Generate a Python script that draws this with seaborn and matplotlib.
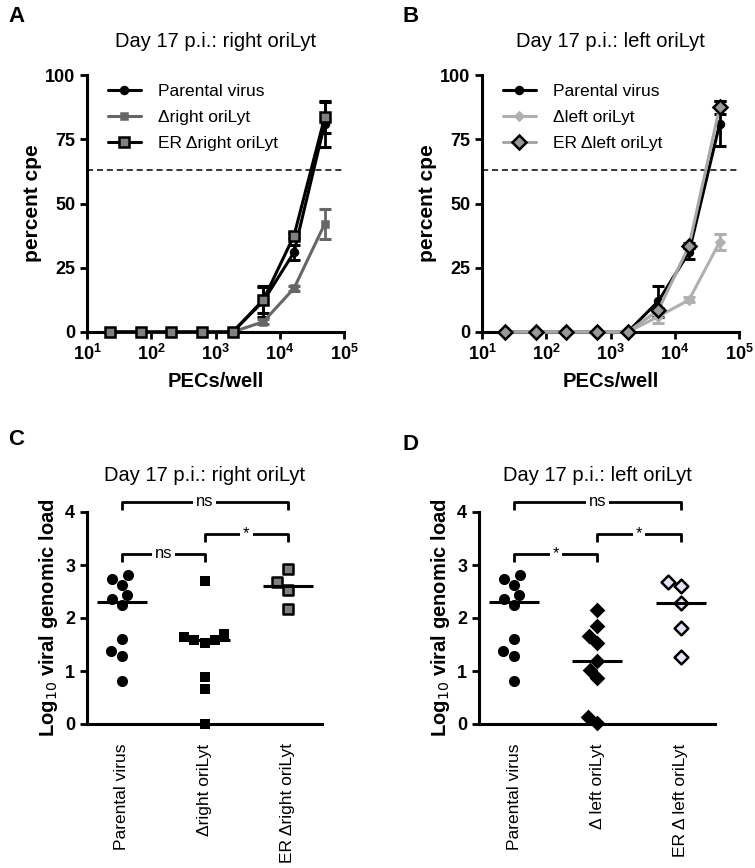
import numpy as np
import pandas as pd
import matplotlib
matplotlib.use("Agg")
import matplotlib.pyplot as plt
import seaborn as sns

sns.set_style("ticks")
plt.rcParams['font.family'] = ['Liberation Sans', 'DejaVu Sans']
plt.rcParams.update({"text.color": "black", "axes.labelcolor": "black",
                     "xtick.color": "black", "ytick.color": "black",
                     "axes.edgecolor": "black"})

# --- cpe titration data (panels A, B) ---
pecs = [22.9, 68.6, 206, 617, 1852, 5556, 16667, 50000]

parental_cpe = [0, 0, 0, 0, 0, 12, 31, 81]
parental_err = [0, 0, 0, 0, 0, 6, 3, 9]

dright_cpe = [0, 0, 0, 0, 0, 4, 17, 42]
dright_err = [0, 0, 0, 0, 0, 1, 1, 5.8]
er_dright_cpe = [0, 0, 0, 0, 0, 12.5, 37.5, 83.5]
er_dright_err = [0, 0, 0, 0, 0, 5, 1, 6]

parental_cpe_b = [0, 0, 0, 0, 0, 12, 31, 81]
parental_err_b = [0, 0, 0, 0, 0, 6, 2.5, 8.7]
dleft_cpe = [0, 0, 0, 0, 0, 6, 12.5, 35]
dleft_err = [0, 0, 0, 0, 0, 2.5, 1, 3]
er_dleft_cpe = [0, 0, 0, 0, 0, 8.5, 33.5, 87.5]
er_dleft_err = [0, 0, 0, 0, 0, 1, 1, 2.5]

cutoff = 63.2

# --- genomic load data (panels C, D) ---
parental_load = [2.74, 2.63, 2.81, 2.43, 2.24, 2.35, 1.61, 1.38, 1.29, 0.81]
dright_load = [2.70, 1.58, 1.69, 1.52, 1.64, 1.58, 0.89, 0.66, 0.0]
er_dright_load = [2.92, 2.67, 2.52, 2.17]
dleft_load = [2.15, 1.85, 1.66, 1.52, 1.19, 1.02, 0.86, 0.14, 0.01]
er_dleft_load = [2.67, 2.61, 2.29, 1.82, 1.26]

cats_c = ["Parental virus", "\u0394right oriLyt", "ER \u0394right oriLyt"]
cats_d = ["Parental virus", "\u0394 left oriLyt", "ER \u0394 left oriLyt"]

fig = plt.figure(figsize=(7.55, 8.68), dpi=100)

W, H = 755, 868


def add_ax(l, t, r, b):
    return fig.add_axes([l / W, 1 - b / H, (r - l) / W, (b - t) / H])


def style_ax(ax):
    for s in ["top", "right"]:
        ax.spines[s].set_visible(False)
    for s in ["left", "bottom"]:
        ax.spines[s].set_linewidth(2.2)
    ax.tick_params(width=2, length=5, labelsize=13)
    for lab in ax.get_yticklabels():
        lab.set_fontweight("bold")


def cpe_panel(ax, title, series):
    for name, y, err, lc, mk, mfc, mec, ms in series:
        df = pd.DataFrame({"x": pecs, "y": y})
        sns.lineplot(data=df, x="x", y="y", ax=ax, color=lc, lw=2.2, marker=mk,
                     markersize=ms, markerfacecolor=mfc, markeredgecolor=mec,
                     markeredgewidth=1.8, label=name, clip_on=False, zorder=3)
        ax.errorbar(pecs, y, yerr=err, fmt="none", ecolor=mec if mec == "black" else lc,
                    elinewidth=2, capsize=4, capthick=2.2, clip_on=False, zorder=2)
    ax.axhline(cutoff, color="black", lw=1.1, ls=(0, (4, 2.5)))
    ax.set_xscale("log")
    ax.set_xlim(10, 1e5)
    ax.set_ylim(0, 100)
    ax.set_yticks([0, 25, 50, 75, 100])
    ax.set_xticks([1e1, 1e2, 1e3, 1e4, 1e5])
    ax.xaxis.set_minor_locator(matplotlib.ticker.NullLocator())
    style_ax(ax)
    for lab in ax.get_xticklabels():
        lab.set_fontweight("bold")
    ax.set_xlabel("PECs/well", fontsize=14.5, fontweight="bold", labelpad=6)
    ax.set_ylabel("percent cpe", fontsize=15, fontweight="bold", labelpad=2)
    ax.set_title(title, fontsize=14.5, pad=20)
    ax.legend(loc="upper left", bbox_to_anchor=(0.02, 1.025), frameon=False,
              fontsize=12.5, handlelength=1.9, labelspacing=0.62, handletextpad=1.0)


def load_panel(ax, title, cats, groups, brackets):
    for cat, vals, mk, fc, ms in groups:
        df = pd.DataFrame({"group": cat, "val": vals})
        sns.swarmplot(data=df, x="group", y="val", order=cats, ax=ax, marker=mk,
                      color=fc, size=ms, edgecolor="black", linewidth=1.8 if fc != "black" else 0,
                      clip_on=False, zorder=3)
        i = cats.index(cat)
        med = np.median(vals)
        ax.hlines(med, i - 0.3, i + 0.3, color="black", lw=2.2, zorder=4)
    ax.set_xlim(-0.42, 2.41)
    ax.set_ylim(0, 4)
    ax.set_yticks([0, 1, 2, 3, 4])
    style_ax(ax)
    ax.tick_params(axis="x", length=0, labelsize=12.5, pad=14)
    ax.set_xticklabels(cats, rotation=90)
    ax.set_xlabel("")
    ax.set_ylabel("Log$_{10}$ viral genomic load", fontsize=14.5, fontweight="bold", labelpad=4)
    ax.set_title(title, fontsize=14.5, pad=22)
    for a, b, y, txt in brackets:
        ax.plot([a, a, b, b], [y - 0.15, y, y, y - 0.15], color="black", lw=2,
                clip_on=False, solid_capstyle="butt")
        ax.text((a + b) / 2, y, txt, ha="center", va="center", fontsize=12,
                bbox=dict(facecolor="white", edgecolor="none", pad=2))


ax_a = add_ax(87, 75, 344, 332)
cpe_panel(ax_a, "Day 17 p.i.: right oriLyt", [
    ("Parental virus", parental_cpe, parental_err, "black", "o", "black", "black", 5),
    ("\u0394right oriLyt", dright_cpe, dright_err, "#666666", "s", "#666666", "#666666", 5),
    ("ER \u0394right oriLyt", er_dright_cpe, er_dright_err, "black", "s", "#808080", "black", 7.5),
])

ax_b = add_ax(482, 75, 739, 332)
cpe_panel(ax_b, "Day 17 p.i.: left oriLyt", [
    ("Parental virus", parental_cpe_b, parental_err_b, "black", "o", "black", "black", 5),
    ("\u0394left oriLyt", dleft_cpe, dleft_err, "#b0b0b0", "D", "#b0b0b0", "#b0b0b0", 4),
    ("ER \u0394left oriLyt", er_dleft_cpe, er_dleft_err, "#a8a8a8", "D", "#999999", "black", 7),
])

ax_c = add_ax(87, 512, 322, 724)
load_panel(ax_c, "Day 17 p.i.: right oriLyt", cats_c, [
    (cats_c[0], parental_load, "o", "black", 8),
    (cats_c[1], dright_load, "s", "black", 7.5),
    (cats_c[2], er_dright_load, "s", "#808080", 7.5),
], [(0, 2, 4.19, "ns"), (1, 2, 3.59, "*"), (0, 1, 3.21, "ns")])

ax_d = add_ax(479, 512, 715, 724)
load_panel(ax_d, "Day 17 p.i.: left oriLyt", cats_d, [
    (cats_d[0], parental_load, "o", "black", 8),
    (cats_d[1], dleft_load, "D", "black", 8),
    (cats_d[2], er_dleft_load, "D", "#e4e4f6", 7),
], [(0, 2, 4.19, "ns"), (1, 2, 3.59, "*"), (0, 1, 3.21, "*")])

for lbl, x, y in [("A", 8, 22), ("B", 402, 22), ("C", 8, 445), ("D", 402, 450)]:
    fig.text(x / W, 1 - y / H, lbl, fontsize=16, fontweight="bold", va="baseline")

fig.savefig("out.png", dpi=100)
